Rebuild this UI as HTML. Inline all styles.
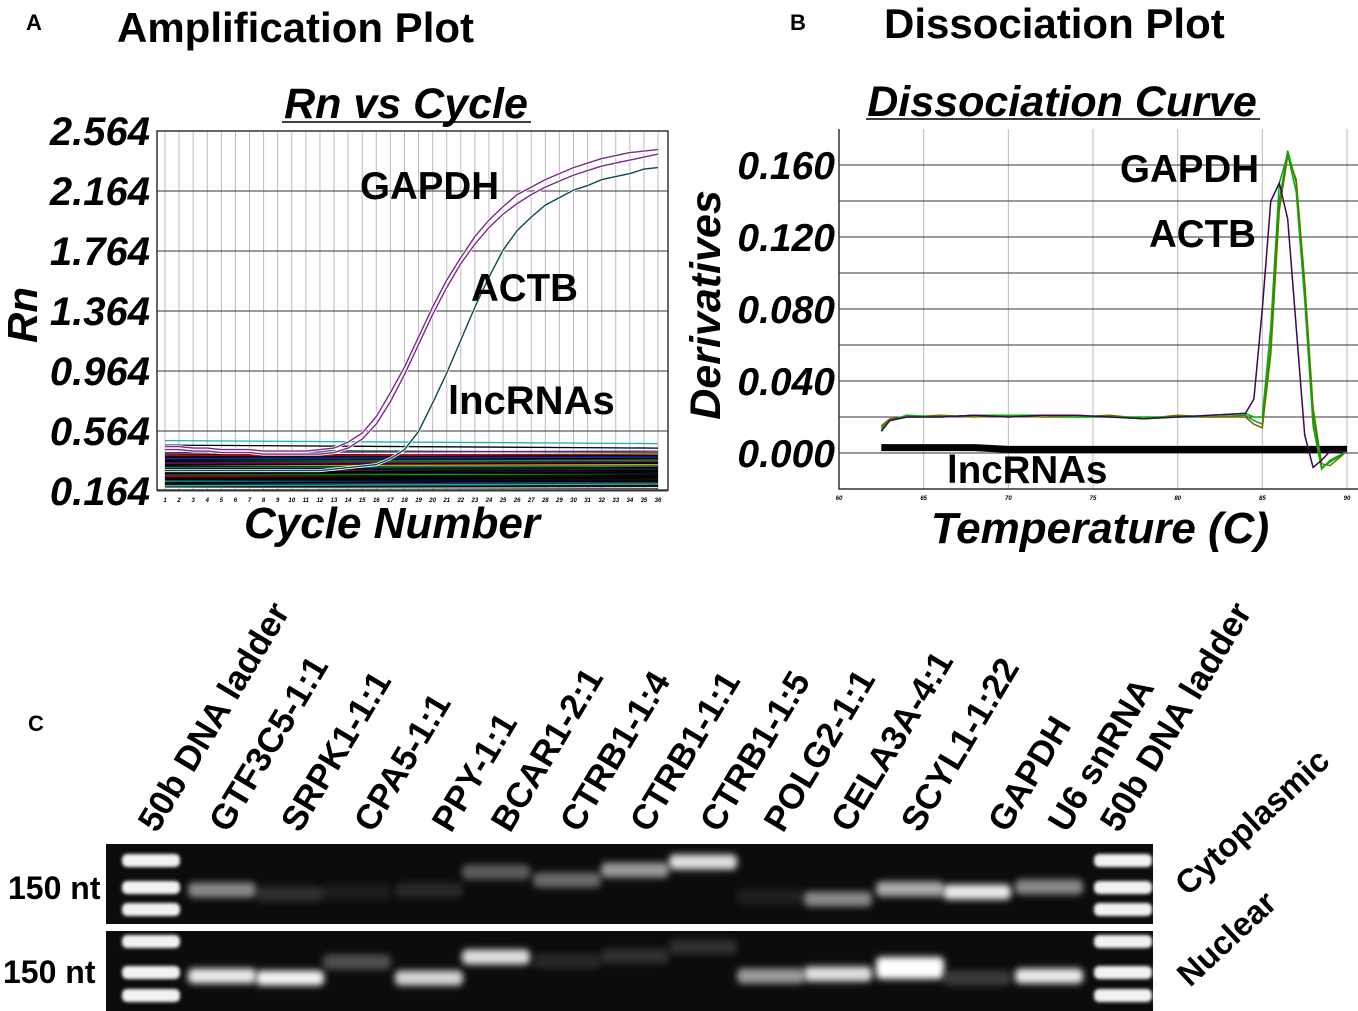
<!DOCTYPE html>
<html><head><meta charset="utf-8"><style>
html,body{margin:0;padding:0;background:#fff;}
svg{display:block;font-family:"Liberation Sans",Arial,sans-serif;}
</style></head><body>
<svg id="fig" width="1358" height="1011" viewBox="0 0 1358 1011" xmlns="http://www.w3.org/2000/svg">
<defs>
<filter id="blur" x="-50%" y="-100%" width="200%" height="300%"><feGaussianBlur stdDeviation="3.5"/></filter>
<filter id="blur2" x="-20%" y="-50%" width="140%" height="200%"><feGaussianBlur stdDeviation="1.5"/></filter>
</defs>
<text x="26" y="30" font-size="22" font-weight="bold">A</text>
<text x="117" y="42" font-size="42" font-weight="bold">Amplification Plot</text>
<text x="790" y="30" font-size="22" font-weight="bold">B</text>
<text x="884" y="38" font-size="42" font-weight="bold">Dissociation Plot</text>
<text x="28" y="731" font-size="22" font-weight="bold">C</text>

<g id="ampA">
<text x="406" y="118" font-size="43" font-weight="bold" font-style="italic" text-anchor="middle">Rn vs Cycle</text>
<line x1="282" y1="122" x2="531" y2="122" stroke="#000" stroke-width="1.5"/>
<text transform="translate(37,315) rotate(-90)" font-size="42" font-weight="bold" font-style="italic" text-anchor="middle">Rn</text>
<text x="392" y="538" font-size="44" font-weight="bold" font-style="italic" text-anchor="middle">Cycle Number</text>
<g id="aGrid"></g><g id="aLines"></g><g id="aTicks"></g>
<rect x="157" y="131" width="511" height="359" fill="none" stroke="#333" stroke-width="1.5"/>
<text x="360" y="199" font-size="38.5" font-weight="bold">GAPDH</text>
<text x="471" y="301" font-size="38.5" font-weight="bold">ACTB</text>
<text x="448" y="414" font-size="40" font-weight="bold">lncRNAs</text>
</g>

<g id="disB">
<text x="1062" y="116" font-size="43" font-weight="bold" font-style="italic" text-anchor="middle">Dissociation Curve</text>
<line x1="866" y1="119" x2="1260" y2="119" stroke="#000" stroke-width="1.5"/>
<text transform="translate(720,305) rotate(-90)" font-size="43" font-weight="bold" font-style="italic" text-anchor="middle">Derivatives</text>
<text x="1100" y="543" font-size="44" font-weight="bold" font-style="italic" text-anchor="middle">Temperature (C)</text>
<g id="bGrid"></g><g id="bLines"></g><g id="bTicks"></g>
<polyline points="839,129 839,489 1358,489" fill="none" stroke="#333" stroke-width="1.5"/>
<text x="1120" y="182" font-size="38.5" font-weight="bold">GAPDH</text>
<text x="1149" y="247" font-size="38.5" font-weight="bold">ACTB</text>
<text x="947" y="483" font-size="38.5" font-weight="bold">lncRNAs</text>
</g>

<g id="gel">
<g id="laneLabels"></g>
<rect x="106" y="844" width="1047" height="80" fill="#0c0c0c"/>
<rect x="106" y="931" width="1047" height="80" fill="#0c0c0c"/>
<g id="bands"></g>
<text x="8" y="899" font-size="32" font-weight="bold">150 nt</text>
<text x="3" y="983" font-size="32" font-weight="bold">150 nt</text>
<text transform="translate(1188,897) rotate(-43)" font-size="33" font-weight="bold">Cytoplasmic</text>
<text transform="translate(1190,988) rotate(-43)" font-size="33" font-weight="bold">Nuclear</text>
</g>
</svg>
<script>
const cycles = [1,2,3,4,5,6,7,8,9,10,11,12,13,14,15,16,17,18,19,20,21,22,23,24,25,26,27,28,29,30,31,32,33,34,35,36];
const gapdhA1 = [0.46,0.46,0.45,0.45,0.44,0.44,0.44,0.43,0.43,0.43,0.43,0.44,0.45,0.49,0.55,0.66,0.82,0.99,1.19,1.39,1.57,1.72,1.86,1.97,2.06,2.14,2.19,2.24,2.28,2.32,2.35,2.38,2.40,2.42,2.43,2.44];
const gapdhA2 = [0.44,0.44,0.43,0.43,0.42,0.42,0.42,0.41,0.41,0.41,0.41,0.41,0.42,0.45,0.51,0.61,0.76,0.94,1.14,1.34,1.52,1.68,1.81,1.92,2.01,2.08,2.14,2.19,2.23,2.27,2.30,2.33,2.35,2.37,2.39,2.41];
const actbA = [0.30,0.30,0.30,0.30,0.30,0.30,0.30,0.30,0.30,0.30,0.30,0.30,0.31,0.32,0.33,0.34,0.38,0.44,0.56,0.75,0.95,1.17,1.39,1.59,1.77,1.90,1.99,2.07,2.12,2.17,2.20,2.24,2.26,2.28,2.31,2.32];
const lncStart = [0.50,0.47,0.44,0.42,0.41,0.40,0.39,0.38,0.37,0.36,0.36,0.35,0.34,0.33,0.33,0.32,0.31,0.30,0.30,0.29,0.28,0.28,0.27,0.26,0.26,0.25,0.24,0.24,0.23,0.22,0.22,0.21,0.21,0.20,0.19];
const lncEnd   = [0.48,0.45,0.42,0.43,0.40,0.41,0.38,0.39,0.36,0.37,0.35,0.36,0.33,0.34,0.32,0.33,0.30,0.31,0.29,0.30,0.27,0.29,0.26,0.27,0.25,0.26,0.23,0.25,0.22,0.23,0.21,0.22,0.20,0.21,0.18];
const aYTicks = ["0.164","0.564","0.964","1.364","1.764","2.164","2.564"];
const lncColors = ["#18b5b5","#000","#0a8a30","#6a1b8a","#000","#c00","#000","#0033cc","#000","#00aa00","#000","#8b008b","#000","#d4a000","#000","#008080","#000","#222","#ff00ff","#000","#0a0","#000","#444","#000","#b00","#000","#006","#000","#0aa","#000","#000","#333","#000","#18b5b5","#555"];

const tempsB = [62.5,63,64,66,68,70,72,74,76,78,80,82,84,84.5,85,85.5,86,86.5,87,87.5,88,88.5,89,90];
const actbB   = [0.012,0.018,0.020,0.020,0.021,0.020,0.021,0.021,0.020,0.019,0.020,0.021,0.022,0.030,0.080,0.140,0.150,0.130,0.070,0.010,-0.008,-0.004,0.001,0.001];
const gapdhB1 = [0.014,0.018,0.020,0.020,0.021,0.020,0.021,0.021,0.020,0.019,0.020,0.020,0.021,0.018,0.016,0.060,0.140,0.168,0.150,0.090,0.020,-0.008,-0.005,0.001];
const gapdhB2 = [0.015,0.019,0.020,0.021,0.020,0.021,0.020,0.020,0.021,0.019,0.021,0.020,0.020,0.016,0.014,0.055,0.135,0.165,0.152,0.095,0.025,-0.006,-0.007,0.001];
const gapdhB3 = [0.013,0.018,0.021,0.020,0.021,0.021,0.021,0.020,0.020,0.020,0.020,0.021,0.022,0.020,0.020,0.070,0.150,0.166,0.145,0.085,0.015,-0.009,-0.004,0.001];
const lncB    = [0.003,0.003,0.003,0.003,0.003,0.002,0.002,0.002,0.002,0.002,0.002,0.002,0.002,0.002,0.002,0.002,0.002,0.002,0.002,0.002,0.002,0.002,0.002,0.002];
const bYTicks = ["0.000","0.040","0.080","0.120","0.160"];
const bXTicks = [60,65,70,75,80,85,90];

const laneNames = ["50b DNA ladder","GTF3C5-1:1","SRPK1-1:1","CPA5-1:1","PPY-1:1","BCAR1-2:1","CTRB1-1:4","CTRB1-1:1","CTRB1-1:5","POLG2-1:1","CELA3A-4:1","SCYL1-1:22","GAPDH","U6 snRNA","50b DNA ladder"];
const cytoBandY = [0,890,894,892,890,872,880,870,862,897,899,889,892,887,0];
const cytoBright = [0,0.55,0.2,0.08,0.15,0.4,0.45,0.6,0.85,0.1,0.55,0.65,0.9,0.55,0];
const nucBandY = [0,976,978,962,978,957,961,956,947,976,974,968,978,976,0];
const nucBright = [0,0.9,0.95,0.35,0.8,0.85,0.15,0.2,0.2,0.6,0.85,1.0,0.25,0.9,0];
const ladderTop = [860,887,909];
const ladderBottom = [941,972,995];

const NS="http://www.w3.org/2000/svg";
function mk(tag, attrs, parent){const e=document.createElementNS(NS,tag);for(const k in attrs)e.setAttribute(k,attrs[k]);parent.appendChild(e);return e;}

const ax = c => 165 + (c-1)*(658-165)/35;
const ay = v => 491 - (v-0.164)*150;
const aGrid=document.getElementById('aGrid'), aLines=document.getElementById('aLines'), aTicks=document.getElementById('aTicks');
cycles.forEach(c=>{
  const l=mk('line',{x1:ax(c),x2:ax(c),y1:131,y2:490,stroke:'#bbb','stroke-width':1},aGrid);
  
  
  const t=mk('text',{x:ax(c),y:502,'font-size':6,'font-style':'italic','font-weight':'bold','text-anchor':'middle'},aTicks);
  t.textContent=c;
  
  
});
aYTicks.forEach(s=>{
  const v=parseFloat(s);
  const l=mk('line',{x1:157,x2:668,y1:ay(v),y2:ay(v),stroke:'#333','stroke-width':1},aGrid);
  
  
  const t=mk('text',{x:150,y:ay(v)+14,'font-size':40,'font-style':'italic','font-weight':'bold','text-anchor':'end'},aTicks);
  t.textContent=s;
  
  
});
const mass=mk('rect',{x:165,y:ay(0.40),width:493,height:ay(0.19)-ay(0.40),fill:'#111'},aLines);


lncStart.forEach((s,i)=>{
  const e=lncEnd[i];
  const p=mk('line',{x1:ax(1),y1:ay(s),x2:ax(36),y2:ay(e),stroke:lncColors[i%lncColors.length],'stroke-width':1.3},aLines);
  
  
});
function aPath(vals,color,name){
  const d=vals.map((v,i)=>(i?'L':'M')+ax(cycles[i]).toFixed(1)+','+ay(v).toFixed(1)).join(' ');
  const w=mk('path',{d:d,fill:'none',stroke:'#fff','stroke-width':3},aLines);
  
  
  const p=mk('path',{d:d,fill:'none',stroke:color,'stroke-width':1.4},aLines);
  
  
}
aPath(gapdhA1,'#7a2a8a','gapdh-curve-1');
aPath(gapdhA2,'#7a2a8a','gapdh-curve-2');
aPath(actbA,'#0b4a4a','actb-curve');

const bx = t => 839 + (t-60)*(1347-839)/30;
const by = v => 453 - v*1800;
const bGrid=document.getElementById('bGrid'), bLines=document.getElementById('bLines'), bTicks=document.getElementById('bTicks');
bXTicks.forEach(t=>{
  const l=mk('line',{x1:bx(t),x2:bx(t),y1:129,y2:489,stroke:'#bbb','stroke-width':1},bGrid);
  
  
  const tx=mk('text',{x:bx(t),y:500,'font-size':6,'font-style':'italic','font-weight':'bold','text-anchor':'middle'},bTicks);
  tx.textContent=t;
  
  
});
for(let v=0;v<=0.1601;v+=0.02){
  const l=mk('line',{x1:839,x2:1358,y1:by(v),y2:by(v),stroke:'#333','stroke-width':1},bGrid);
  
  
}
bYTicks.forEach(s=>{
  const v=parseFloat(s);
  const t=mk('text',{x:835,y:by(v)+14,'font-size':39,'font-style':'italic','font-weight':'bold','text-anchor':'end'},bTicks);
  t.textContent=s;
  
  
});
function bPath(vals,color,w,name){
  const d=vals.map((v,i)=>(i?'L':'M')+bx(tempsB[i]).toFixed(1)+','+by(v).toFixed(1)).join(' ');
  const p=mk('path',{d:d,fill:'none',stroke:color,'stroke-width':w},bLines);
  
  
}
bPath(lncB,'#000',7,'lncrna-melt-curve');
bPath(gapdhB1,'#1a9a1a',1.5,'gapdh-melt-curve-1');
bPath(gapdhB2,'#6b6b00',1.5,'gapdh-melt-curve-2');
bPath(gapdhB3,'#00b000',1.5,'gapdh-melt-curve-3');
bPath(actbB,'#3a0a4a',1.5,'actb-melt-curve');

const laneX=[151,222,290,357,429,496,567,635,703,771,838,910,977,1049,1123];
const labelDX=[0,0,4,10,16,8,6,8,10,6,6,4,24,12,-10];
const ll=document.getElementById('laneLabels'), bands=document.getElementById('bands');
laneNames.forEach((n,i)=>{
  const x=laneX[i]+6+labelDX[i];
  const t=mk('text',{transform:`translate(${x},834) rotate(-59)`,'font-size':35,'font-weight':'bold'},ll);
  t.textContent=n;
  
  
});
[0,14].forEach(i=>{
  ladderTop.concat(ladderBottom).forEach(y=>{
    const r=mk('rect',{x:laneX[i]-29,y:y-6,width:58,height:13,rx:5,fill:'#f2f2f2',filter:'url(#blur2)'},bands);
    
    
  });
});
function band(x,y,b,name,big){
  if(b<=0)return;
  const g=Math.round(40+215*b);
  const h=big?22:15;
  const r=mk('rect',{x:x-34,y:y-h/2,width:68,height:h,rx:5,fill:`rgb(${g},${g},${g})`,opacity:Math.min(1,0.3+b),filter:'url(#blur)'},bands);
  
  
}
laneX.forEach((x,i)=>{
  band(x,cytoBandY[i],cytoBright[i],'cytoplasmic-band',false);
  band(x,nucBandY[i],nucBright[i],'nuclear-band',nucBright[i]>=1);
});
</script>
</body></html>
